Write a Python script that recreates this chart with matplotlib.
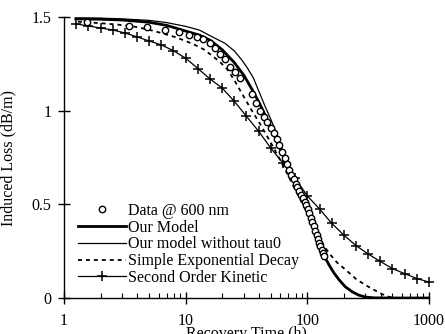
import matplotlib
matplotlib.use("Agg")
import matplotlib.pyplot as plt
from matplotlib.ticker import FixedLocator, FixedFormatter, LogLocator, NullFormatter

plt.rcParams['font.family'] = ['Liberation Serif', 'DejaVu Serif']

# Measured induced loss at 600 nm during recovery
data_t = [1.55, 3.45, 4.8, 6.8, 8.8, 10.6, 12.3, 13.9, 15.7, 17.4, 19.2, 21.0, 23.0,
          25.2, 27.7, 35, 38, 41, 44, 47, 50, 53, 56, 59, 62, 65, 68, 71, 74, 77, 80,
          83, 86, 89, 92, 95, 98, 101, 104, 107, 110, 113, 116, 119, 122, 125, 128,
          131, 134, 137]
data_y = [1.475, 1.452, 1.445, 1.432, 1.418, 1.405, 1.395, 1.383, 1.36, 1.335, 1.305,
          1.275, 1.235, 1.205, 1.175, 1.09, 1.04, 1.0, 0.968, 0.937, 0.91, 0.88, 0.848,
          0.818, 0.782, 0.748, 0.715, 0.684, 0.657, 0.634, 0.611, 0.59, 0.569, 0.55,
          0.532, 0.513, 0.494, 0.475, 0.452, 0.428, 0.405, 0.382, 0.358, 0.336, 0.315,
          0.295, 0.276, 0.258, 0.24, 0.222]

# Our model
model_t = [1.25, 2, 3, 5, 7, 10, 13, 16, 20, 25, 30, 35, 40, 50, 60, 70, 80, 90, 100,
           110, 120, 130, 140, 151, 165, 183, 205, 234, 265, 302, 350, 450, 1000]
model_y = [1.49, 1.488, 1.484, 1.472, 1.455, 1.425, 1.403, 1.375, 1.325, 1.258, 1.19,
           1.115, 1.045, 0.915, 0.795, 0.695, 0.612, 0.543, 0.475, 0.405, 0.335, 0.268,
           0.215, 0.176, 0.135, 0.096, 0.06, 0.033, 0.015, 0.005, 0.001, 0.0, 0.0]

# Our model without tau0
notau_t = [1.25, 2, 3, 5, 7, 10, 13, 17, 21, 25, 29, 32, 36, 39, 44.5, 50, 55, 60, 70,
           80, 90, 100, 110, 120, 130, 140, 151, 165, 183, 205, 234, 265, 302, 350,
           450, 1000]
notau_y = [1.495, 1.494, 1.49, 1.482, 1.47, 1.45, 1.43, 1.39, 1.36, 1.32, 1.27, 1.23,
           1.175, 1.12, 1.03, 0.955, 0.89, 0.82, 0.70, 0.612, 0.543, 0.475, 0.405,
           0.335, 0.268, 0.215, 0.176, 0.135, 0.096, 0.06, 0.033, 0.015, 0.005, 0.001,
           0.0, 0.0]

# Simple exponential decay
expo_t = [1.3, 2, 2.8, 3.7, 5, 6.1, 8, 10.2, 12, 14, 16, 19, 22, 25, 30, 35, 40, 50,
          60, 70, 80, 90, 100, 112, 125, 140, 151, 175, 208, 253, 302, 350, 390, 430,
          470, 550]
expo_y = [1.475, 1.467, 1.459, 1.45, 1.432, 1.417, 1.395, 1.37, 1.35, 1.328, 1.3,
          1.262, 1.22, 1.165, 1.075, 1.0, 0.94, 0.83, 0.735, 0.65, 0.575, 0.51, 0.452,
          0.385, 0.324, 0.27, 0.239, 0.19, 0.149, 0.10, 0.068, 0.045, 0.028, 0.015,
          0.006, 0.0]

# Second order kinetic
kin_t = [1.26, 1.58, 2.0, 2.51, 3.16, 3.98, 5.01, 6.31, 7.94, 10.0, 12.6, 15.8, 20.0,
         25.1, 31.6, 39.8, 50.1, 63.1, 79.4, 100, 126, 158, 200, 251, 316, 398, 501,
         631, 794, 1000]
kin_y = [1.463, 1.452, 1.441, 1.431, 1.415, 1.394, 1.372, 1.351, 1.32, 1.28, 1.225,
         1.17, 1.12, 1.05, 0.97, 0.89, 0.80, 0.72, 0.64, 0.545, 0.475, 0.40, 0.335,
         0.28, 0.235, 0.195, 0.157, 0.13, 0.104, 0.085]

x_ticks = [1, 10, 100, 1000]
x_labels = ["1", "10", "100", "1000"]
y_ticks = [0, 0.5, 1, 1.5]
y_labels = ["0", "0.5", "1", "1.5"]

fig = plt.figure(figsize=(4.45, 3.34), dpi=100)
ax = fig.add_axes([64 / 445, 1 - 298 / 334, 365 / 445, 281 / 334])

ax.plot(data_t, data_y, linestyle='none', marker='o', ms=4.6, mfc='white',
        mec='black', mew=1.0, label='Data @ 600 nm', zorder=4, clip_on=False)
ax.plot(model_t, model_y, color='black', lw=2.0, label='Our Model', zorder=3)
ax.plot(notau_t, notau_y, color='black', lw=0.9, label='Our model without tau0', zorder=3)
ax.plot(expo_t, expo_y, color='black', lw=1.3, linestyle=(0, (2.2, 2.2)),
        label='Simple Exponential Decay', zorder=3)
ax.plot(kin_t, kin_y, color='black', lw=0.9, marker='+', ms=7, mew=1.1,
        label='Second Order Kinetic', zorder=3, clip_on=False)

ax.set_xscale('log')
ax.set_xlim(1, 1000)
ax.set_ylim(0, 1.5)

for s in ('top', 'right'):
    ax.spines[s].set_visible(False)
for s in ('left', 'bottom'):
    ax.spines[s].set_linewidth(1.0)

ax.xaxis.set_major_locator(FixedLocator(x_ticks))
ax.xaxis.set_major_formatter(FixedFormatter(x_labels))
ax.xaxis.set_minor_locator(LogLocator(base=10, subs=range(2, 10)))
ax.xaxis.set_minor_formatter(NullFormatter())
ax.yaxis.set_major_locator(FixedLocator(y_ticks))
ax.yaxis.set_major_formatter(FixedFormatter(y_labels))

ax.tick_params(axis='both', which='major', direction='inout', length=8, width=1.0,
               labelsize=11.5)
ax.tick_params(axis='x', which='minor', direction='in', length=3.5, width=0.8)
ax.tick_params(axis='x', which='major', pad=7)
ax.tick_params(axis='y', which='major', pad=5)

ax.set_ylabel('Induced Loss (dB/m)', fontsize=11.5)
ax.yaxis.set_label_coords(-0.13, 0.5)
ax.set_xlabel('Recovery Time (h)', fontsize=11.5, va='top')
ax.xaxis.set_label_coords(0.5, -0.10)

leg = ax.legend(loc='lower left', bbox_to_anchor=(0.038, 0.043), frameon=False,
                fontsize=11.5, handlelength=3.0, handletextpad=0.15,
                labelspacing=0.05, borderpad=0, borderaxespad=0, numpoints=1)

fig.savefig('out.png', dpi=100, facecolor='white')
